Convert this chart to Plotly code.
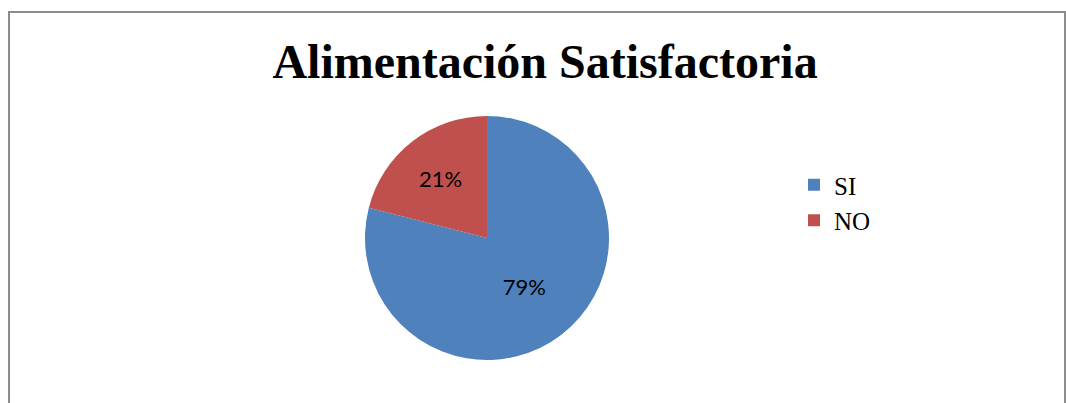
import plotly.graph_objects as go

labels = ["SI", "NO"]
values = [79, 21]
colors = ["#4F81BD", "#C0504D"]
title_text = "Alimentación Satisfactoria"

W, H = 1066, 403

fig = go.Figure()
fig.add_trace(go.Pie(
    labels=labels,
    values=values,
    sort=False,
    direction="clockwise",
    rotation=0,
    marker=dict(colors=colors, line=dict(width=0)),
    textinfo="percent",
    texttemplate="%{percent:.0%}",
    textposition="inside",
    insidetextorientation="horizontal",
    textfont=dict(family="Lato, Open Sans, sans-serif", size=22, color="#000000"),
    domain=dict(x=[365 / W, 609 / W], y=[1 - 360 / H, 1 - 116 / H]),
    hoverinfo="label+percent",
))

fig.update_layout(
    width=W, height=H,
    margin=dict(l=0, r=0, t=0, b=0),
    paper_bgcolor="white",
    plot_bgcolor="white",
    title=dict(
        text="<b>" + title_text + "</b>",
        font=dict(family="Liberation Serif, Times New Roman, serif", size=48, color="#000000"),
        x=545 / W, xanchor="center",
        y=1 - 61 / H, yanchor="middle",
    ),
    legend=dict(
        x=794 / W, xanchor="left",
        y=1 - 162 / H, yanchor="top",
        font=dict(family="Liberation Serif, Times New Roman, serif", size=25, color="#000000"),
        bgcolor="rgba(0,0,0,0)",
        itemsizing="constant",
        tracegroupgap=0,
    ),
    shapes=[dict(
        type="rect", xref="paper", yref="paper",
        x0=9 / W, x1=1065 / W, y0=-0.05, y1=1 - 12 / H,
        line=dict(color="#8C8C8C", width=2),
        fillcolor="rgba(0,0,0,0)",
        layer="below",
    )],
)

fig.write_html(
    "out.html",
    config={"displayModeBar": False},
    post_script="document.body.style.margin='0';document.body.style.overflow='hidden';",
)
